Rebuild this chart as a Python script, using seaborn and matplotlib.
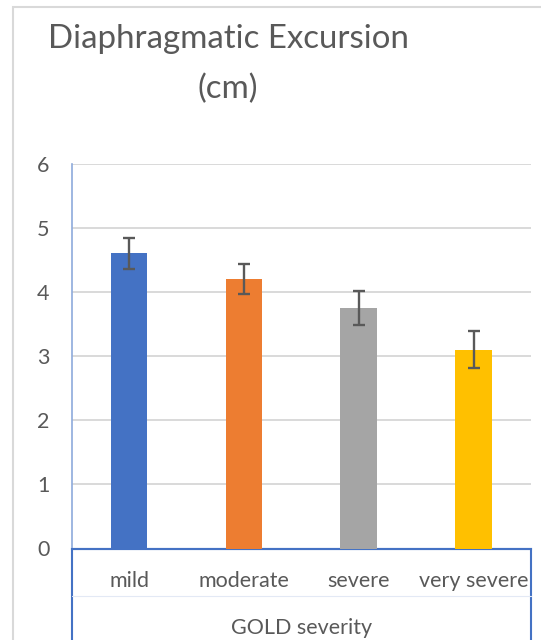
import matplotlib
matplotlib.use("Agg")
import matplotlib.pyplot as plt
from matplotlib.patches import Rectangle
from matplotlib.lines import Line2D
import pandas as pd
import seaborn as sns

# values
categories = ["mild", "moderate", "severe", "very severe"]
excursion = [4.6, 4.2, 3.75, 3.1]
errors = [0.24, 0.23, 0.26, 0.29]
colors = ["#4472c4", "#ed7d31", "#a5a5a5", "#ffc000"]
y_ticks = [0, 1, 2, 3, 4, 5, 6]

sns.set_style("white")
plt.rcParams['font.family'] = ['Lato', 'DejaVu Sans']
txt = "#595959"

df = pd.DataFrame({"severity": categories, "excursion": excursion})

fig = plt.figure(figsize=(5.41, 6.40), dpi=100)
ax = fig.add_axes([71.7 / 541, 1 - 548.5 / 640, (531 - 71.7) / 541, (548.5 - 163.5) / 640])

sns.barplot(data=df, x="severity", y="excursion", hue="severity", order=categories,
            palette=colors, saturation=1, width=0.32, legend=False, ax=ax, zorder=3,
            linewidth=0)
ax.errorbar(range(len(categories)), excursion, yerr=errors, fmt="none",
            ecolor="#595959", elinewidth=1.7, capsize=4.5, capthick=1.7, zorder=4)

ax.set_ylim(0, 6)
ax.set_xlim(-0.5, 3.5)
ax.set_yticks(y_ticks)
ax.yaxis.grid(True, color="#d9d9d9", lw=1.4, zorder=0)
ax.set_axisbelow(True)
for s in ["top", "right"]:
    ax.spines[s].set_visible(False)
ax.spines["left"].set_color("#8eaadb")
ax.spines["left"].set_linewidth(1.2)
ax.spines["bottom"].set_color("#4472c4")
ax.spines["bottom"].set_linewidth(1.5)
ax.tick_params(axis="both", length=0, labelsize=15.5, labelcolor=txt)
ax.tick_params(axis="y", pad=16)
ax.tick_params(axis="x", pad=16)
ax.set_xlabel("GOLD severity", fontsize=15.5, color=txt, labelpad=20)
ax.set_ylabel("")

# box around the category axis
ax.add_patch(Rectangle((0, -0.5), 1, 0.5, transform=ax.transAxes, fill=False,
                       edgecolor="#4472c4", lw=1.5, clip_on=False))
ax.add_line(Line2D([0, 1], [-(595.5 - 548.5) / 385, -(595.5 - 548.5) / 385],
                   transform=ax.transAxes, color="#e3e9f5", lw=0.8, clip_on=False))

# chart area border
fig.add_artist(Rectangle((13 / 541, -0.1), 1.2, 1 - 7 / 640 + 0.1, transform=fig.transFigure,
                         fill=False, edgecolor="#d9d9d9", lw=1.5))

fig.text(228 / 541, 1 - 64 / 640, "Diaphragmatic Excursion\n(cm)", ha="center", va="center",
         fontsize=23.8, color=txt, linespacing=1.8)

fig.savefig("out.png", dpi=100)
